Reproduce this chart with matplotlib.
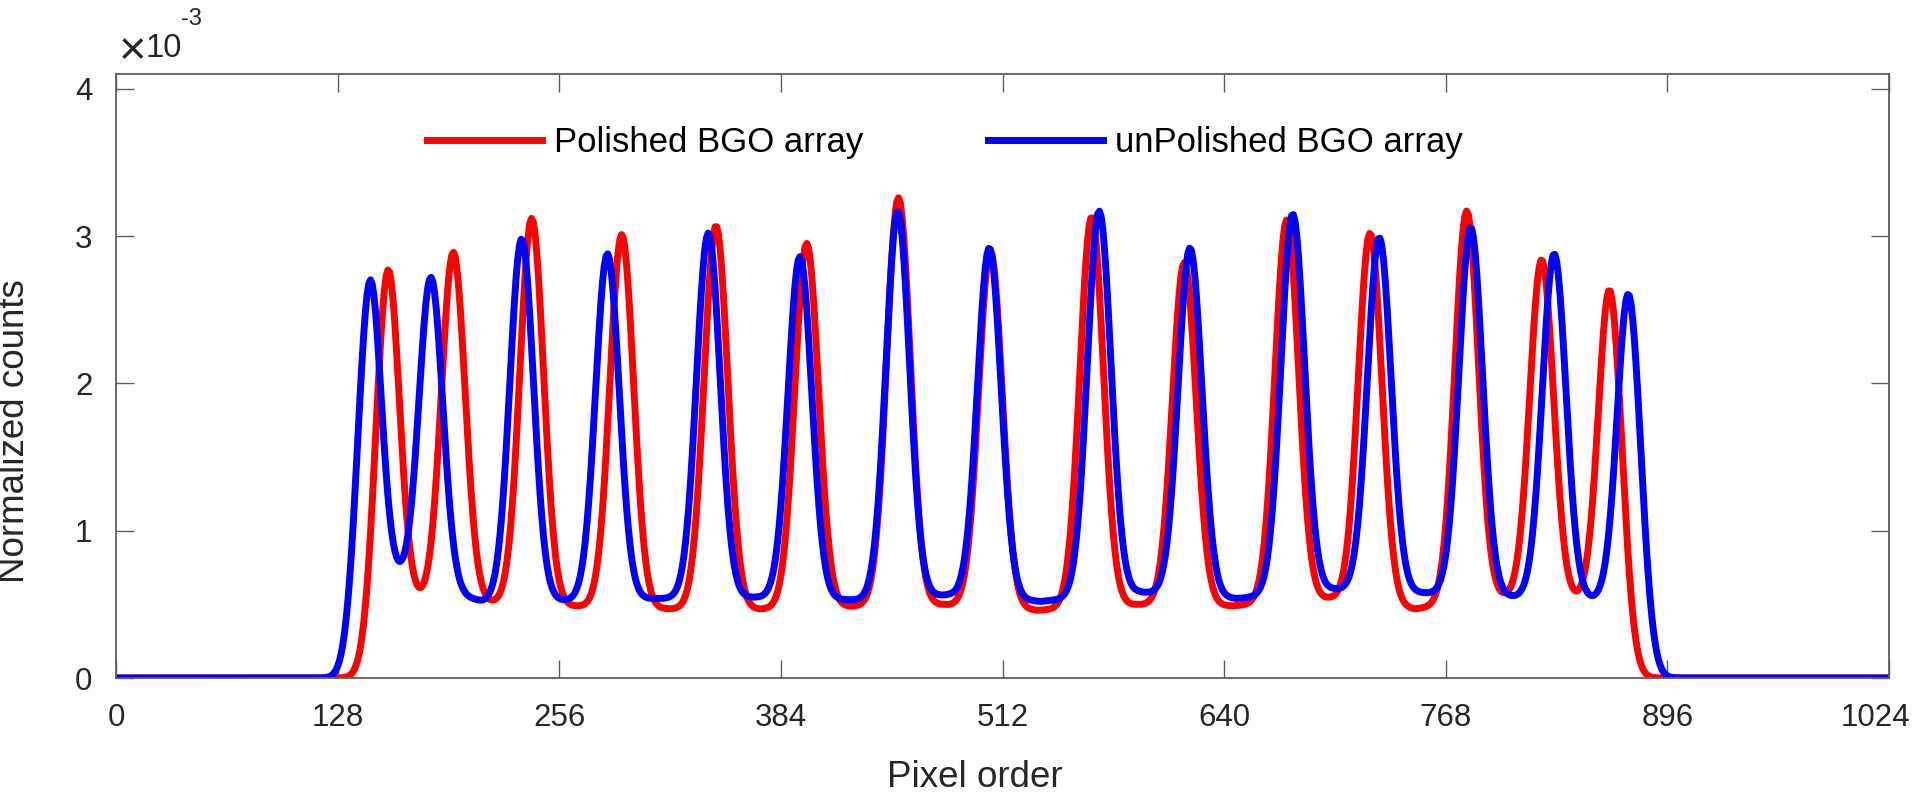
import numpy as np
import matplotlib
matplotlib.use("Agg")
import matplotlib.pyplot as plt
from matplotlib.ticker import FuncFormatter
from matplotlib.transforms import ScaledTranslation

plt.rcParams["font.family"] = ["Liberation Sans", "DejaVu Sans"]

# pixel index along the row profile
pixels = np.arange(1024)

# Peak centres (pixel) and peak heights (in units of 1e-3)
polished_peak_pos = [156.3, 194.8, 240.1, 292.1, 346.5, 398.9, 451.9, 505.0,
                     563.5, 617.0, 676.2, 724.3, 780.1, 823.4, 863.5]
polished_peak_height = [2.73, 2.89, 3.12, 3.01, 3.07, 2.95, 3.26, 2.90,
                        3.13, 2.82, 3.11, 3.02, 3.17, 2.84, 2.58]
# valley floor between neighbouring peaks
polished_valley_pos = [176.5, 221.0, 266.0, 320.0, 372.0, 427.0, 478.0,
                       532.0, 590.0, 645.0, 701.0, 750.0, 801.0, 842.0]
polished_valley_level = [0.62, 0.56, 0.49, 0.47, 0.47, 0.49, 0.50,
                         0.46, 0.50, 0.49, 0.55, 0.47, 0.58, 0.60]

unpolished_peak_pos = [145.7, 181.9, 234.3, 283.8, 342.1, 395.0, 451.5, 504.4,
                       567.8, 620.3, 679.6, 729.6, 782.4, 830.6, 874.4]
unpolished_peak_height = [2.68, 2.72, 2.98, 2.88, 3.02, 2.86, 3.17, 2.92,
                          3.17, 2.92, 3.15, 2.99, 3.06, 2.88, 2.60]
unpolished_valley_pos = [165.0, 212.0, 262.0, 314.0, 370.0, 429.0, 481.0,
                         534.0, 591.0, 647.0, 703.0, 755.0, 806.0, 852.0]
unpolished_valley_level = [0.80, 0.53, 0.54, 0.54, 0.55, 0.54, 0.57,
                           0.52, 0.59, 0.54, 0.61, 0.58, 0.56, 0.56]

peak_sigma = 6.8  # crystal response width in pixels


def build_profile(peak_pos, peak_height, valley_pos, valley_level):
    # smooth on/off edges of the crystal block
    edge = 1 / (1 + np.exp(-(pixels - peak_pos[0]) / 2.5))
    edge *= 1 / (1 + np.exp((pixels - peak_pos[-1]) / 2.5))
    idx = [int(round(c)) for c in peak_pos]
    floor = np.interp(pixels, valley_pos, valley_level)
    # a few passes so that both peak tops and valley floors hit the read values
    for _ in range(4):
        peaks = np.zeros(len(pixels))
        for c, h, i in zip(peak_pos, peak_height, idx):
            amp = h - floor[i] * edge[i]
            peaks += amp * np.exp(-0.5 * ((pixels - c) / peak_sigma) ** 2)
        tails = np.interp(valley_pos, pixels, peaks)
        floor = np.interp(pixels, valley_pos, np.array(valley_level) - tails)
    return (floor * edge + peaks) * 1e-3


polished = build_profile(polished_peak_pos, polished_peak_height,
                         polished_valley_pos, polished_valley_level)
unpolished = build_profile(unpolished_peak_pos, unpolished_peak_height,
                           unpolished_valley_pos, unpolished_valley_level)

fig = plt.figure(figsize=(19.2, 8.02), dpi=100)
ax = fig.add_axes([116 / 1920, 1 - 678 / 802, 1773 / 1920, 604 / 802])

ax.plot(pixels, polished, color=(1, 0, 0), lw=5, label="Polished BGO array")
ax.plot(pixels, unpolished, color=(0, 0, 1), lw=5, label="unPolished BGO array")

ax.set_xlim(0, 1024)
ax.set_ylim(0, 4.1e-3)
ax.set_xticks(np.arange(0, 1025, 128))
ax.set_yticks([0, 1e-3, 2e-3, 3e-3, 4e-3])
ax.yaxis.set_major_formatter(FuncFormatter(lambda v, _: f"{v * 1e3:g}"))

axis_grey = "#5e5e5e"
for s in ax.spines.values():
    s.set_color(axis_grey)
    s.set_linewidth(1.3)
ax.tick_params(direction="in", length=13, width=1.0, color=axis_grey,
               top=True, right=True, labelsize=22.5, labelcolor="#262626")
ax.tick_params(axis="x", pad=18)
ax.tick_params(axis="y", pad=17)

# the last x label is pulled inward, as MATLAB does at the figure edge
last = ax.get_xticklabels()[-1]
last.set_transform(last.get_transform() + ScaledTranslation(-0.14, 0, fig.dpi_scale_trans))

ax.legend(ncol=2, frameon=False, loc="center", bbox_to_anchor=(0.4676, 0.887),
          fontsize=25, handlelength=3.3, handletextpad=0.35, columnspacing=3.6)

fig.text(975 / 1920, 1 - 787 / 802, "Pixel order", fontsize=26.5,
         color="#262626", ha="center", va="baseline")
fig.text(32 / 1920, 1 - 431 / 802, "Normalized counts", fontsize=26.5,
         color="#262626", rotation=90, ha="right", va="center")

# MATLAB style exponent label above the y axis
fig.text(119 / 1920, 1 - 64 / 802, "\u00d7", fontsize=34, color="#262626",
         ha="left", va="baseline")
fig.text(146 / 1920, 1 - 57 / 802, "10", fontsize=23.5, color="#262626",
         ha="left", va="baseline")
fig.text(181 / 1920, 1 - 25 / 802, "-3", fontsize=17, color="#262626",
         ha="left", va="baseline")

fig.savefig("out.png", dpi=100)
